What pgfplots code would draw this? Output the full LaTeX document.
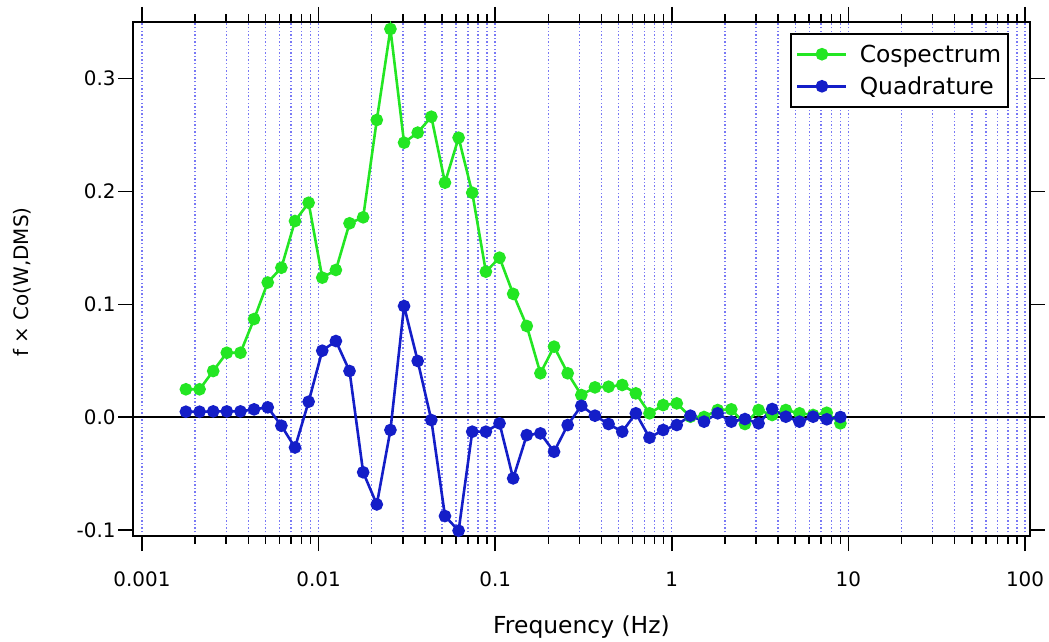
\documentclass[border=0pt]{standalone}
\usepackage{fontspec}
\setmainfont{DejaVu Sans}
\usepackage{pgfplots}
\pgfplotsset{compat=1.18}
\usepackage{pgfplotstable}

\definecolor{cospec}{RGB}{35,230,35}
\definecolor{quadr}{RGB}{20,30,200}
\definecolor{gridblue}{RGB}{120,120,245}

% f, cospectrum (f x Co), quadrature
\pgfplotstableread{
f        co       quad
0.001774 0.0246   0.0047
0.002120 0.0246   0.0047
0.002532 0.0408   0.0050
0.003024 0.0570   0.0050
0.003613 0.0570   0.0050
0.004315 0.0869   0.0068
0.005155 0.1193   0.0086
0.006158 0.1324  -0.0077
0.007356 0.1738  -0.0270
0.008787 0.1900   0.0136
0.010495 0.1236   0.0588
0.012537 0.1304   0.0674
0.014977 0.1718   0.0408
0.017889 0.1771  -0.0490
0.021370 0.2634  -0.0775
0.025527 0.3441  -0.0115
0.030493 0.2433   0.0984
0.036425 0.2522   0.0497
0.043511 0.2663  -0.0027
0.051976 0.2078  -0.0878
0.062087 0.2477  -0.1008
0.074165 0.1989  -0.0130
0.088595 0.1289  -0.0130
0.10583  0.1413  -0.0056
0.12642  0.1092  -0.0544
0.15101  0.0807  -0.0160
0.18039  0.0388  -0.0145
0.21549  0.0624  -0.0308
0.25741  0.0388  -0.0071
0.30749  0.0195   0.0100
0.36728  0.0263   0.0012
0.43873  0.0269  -0.0062
0.52408  0.0284  -0.0130
0.62603  0.0210   0.0033
0.74782  0.0033  -0.0183
0.89331  0.0106  -0.0115
1.0671   0.0121  -0.0071
1.2747   0.0003   0.0012
1.5226   0.0000  -0.0041
1.8188   0.0062   0.0033
2.1727   0.0068  -0.0041
2.5953  -0.0062  -0.0018
3.1002   0.0062  -0.0056
3.7033   0.0018   0.0071
4.4236   0.0062   0.0003
5.2845   0.0033  -0.0041
6.3124   0.0018   0.0003
7.5405   0.0038  -0.0020
9.0072  -0.0056   0.0000
}\spectra

\begin{document}
\begin{tikzpicture}
\begin{axis}[
  scale only axis,
  width=897bp, height=514bp,
  xmode=log,
  xmin=0.00089, xmax=106.7,
  ymin=-0.1055, ymax=0.3503,
  xtick={0.001,0.01,0.1,1,10,100},
  xticklabels={0.001,0.01,0.1,1,10,100},
  minor xtick={0.002,0.003,0.004,0.005,0.006,0.007,0.008,0.009,
               0.02,0.03,0.04,0.05,0.06,0.07,0.08,0.09,
               0.2,0.3,0.4,0.5,0.6,0.7,0.8,0.9,
               2,3,4,5,6,7,8,9,
               20,30,40,50,60,70,80,90},
  ytick={-0.1,0,0.1,0.2,0.3},
  yticklabels={-0.1,0.0,0.1,0.2,0.3},
  extra y ticks={0},
  extra y tick labels={},
  extra y tick style={ymajorgrids=true, major grid style={solid, black, line width=1.4bp}},
  xmajorgrids, xminorgrids,
  major grid style={draw=gridblue, line width=1.4bp, dash pattern=on 1.4bp off 2.2bp},
  minor grid style={draw=gridblue, line width=1.4bp, dash pattern=on 1.4bp off 2.2bp},
  tick align=outside,
  major tick length=15bp,
  minor tick length=7.5bp,
  every tick/.style={black, line width=1.5bp},
  axis line style={black, line width=1.6bp},
  tick label style={font=\fontsize{20}{24}\selectfont},
  xticklabel style={yshift=-17bp},
  yticklabel style={xshift=1bp},
  xlabel={Frequency (Hz)},
  ylabel={f × Co(W,DMS)},
  xlabel style={font=\fontsize{23.5}{28}\selectfont, at={(axis description cs:0.5,-0.177)}, anchor=center},
  ylabel style={font=\fontsize{20}{24}\selectfont, at={(axis description cs:-0.1237,0.494)}, anchor=center},
  legend style={at={(rel axis cs:0.9766,0.9786)}, anchor=north east,
    draw=black, line width=1.6bp, font=\fontsize{23.5}{28}\selectfont,
    inner xsep=5bp, inner ysep=9bp, row sep=9bp, column sep=10bp},
  legend cell align=left,
  legend image code/.code={\draw[mark repeat=2, mark phase=2, #1]
    plot coordinates {(0bp,0bp) (24.5bp,0bp) (49bp,0bp)};},
]
\addplot[cospec, line width=2.6bp, mark=*, mark size=5bp] table[x=f, y=co] {\spectra};
\addlegendentry{Cospectrum}
\addplot[quadr, line width=2.6bp, mark=*, mark size=5bp] table[x=f, y=quad] {\spectra};
\addlegendentry{Quadrature}
\end{axis}
\pgfresetboundingbox
\path (current axis.south west) +(-133bp,-106bp) (current axis.north east) +(19bp,22bp);
\end{tikzpicture}
\end{document}
